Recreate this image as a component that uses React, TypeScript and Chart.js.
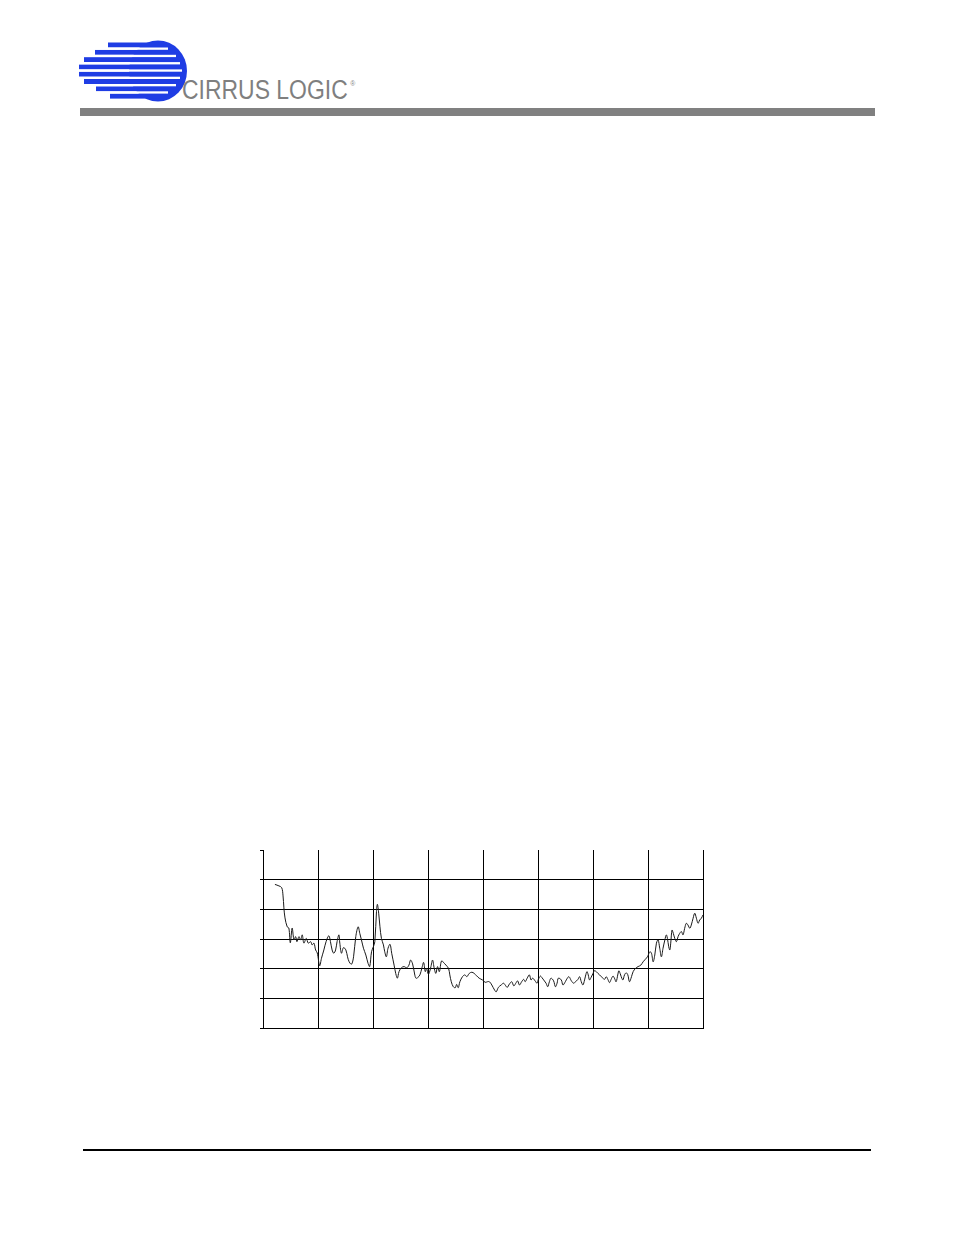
import React, { useEffect, useRef } from "react";
import { Chart, registerables } from "chart.js";

Chart.register(...registerables);

// Frequency (kHz) and level (dB)
const freqKHz: number[] = [
  0.65, 0.87, 1.02, 1.09, 1.14, 1.2, 1.32, 1.41, 1.49, 1.59, 1.69, 1.78, 1.85, 1.96, 2.05, 2.14, 2.23, 2.36, 2.47, 2.6,
  2.68, 2.78, 2.87, 2.96, 3.09, 3.19, 3.32, 3.44, 3.59, 3.68, 3.77, 3.86, 3.96, 4.04, 4.14, 4.19, 4.28, 4.39, 4.52, 4.61,
  4.7, 4.83, 4.94, 5.06, 5.19, 5.28, 5.37, 5.48, 5.61, 5.73, 5.82, 5.92, 6.02, 6.1, 6.19, 6.24, 6.31, 6.38, 6.46, 6.57,
  6.64, 6.73, 6.82, 6.93, 7.02, 7.15, 7.24, 7.33, 7.42, 7.55, 7.69, 7.84, 7.96, 8.05, 8.16, 8.27, 8.34, 8.44, 8.56, 8.67,
  8.76, 8.85, 8.92, 9.02, 9.1, 9.16, 9.25, 9.34, 9.43, 9.52, 9.62, 9.74, 9.89, 9.98, 10.12, 10.19, 10.27, 10.38, 10.49, 10.56,
  10.65, 10.74, 10.88, 11.01, 11.12, 11.25, 11.39, 11.52, 11.65, 11.79, 11.97, 12.12, 12.24, 12.35, 12.48, 12.63, 12.72, 12.84, 12.99, 13.12,
  13.21, 13.32, 13.44, 13.57, 13.68, 13.81, 13.89, 13.99, 14.11, 14.22, 14.3, 14.41, 14.53, 14.62, 14.71, 14.84, 14.95, 15.02, 15.13, 15.2,
  15.31, 15.44, 15.53, 15.62, 15.71, 15.85, 15.95, 16.04, 16.11, 16.27, 16.36, 16.49, 16.6, 16.69, 16.82, 16.94, 17.05, 17.18, 17.27, 17.36,
  17.45, 17.54, 17.59, 17.67, 17.74, 17.81, 17.9, 18.0, 18.08, 18.18, 18.27, 18.36, 18.45, 18.54, 18.63, 18.72, 18.81, 18.9, 18.99, 19.09,
  19.17, 19.26, 19.36, 19.41, 19.48, 19.54, 19.63, 19.72, 19.81, 19.9, 19.99, 20.1, 20.19, 20.32, 20.46, 20.61, 20.73, 20.86, 20.97, 21.1,
  21.19, 21.28, 21.37, 21.46, 21.55, 21.64, 21.73, 21.82, 21.92, 22.0, 22.06, 22.13, 22.19, 22.24, 22.31, 22.38, 22.46, 22.55, 22.64, 22.73,
  22.82, 22.91, 23.0, 23.09, 23.18, 23.28, 23.36, 23.46, 23.55, 23.64, 23.73, 23.82, 23.91, 24.0,
];

const levelDb: number[] = [
  -101.6, -102.1, -102.7, -105.2, -109.5, -112.9, -115.9, -116.3, -121.3, -116.3, -120.3, -119.2, -120.9, -119.2, -120.3, -118.6, -121.4, -119.8, -121.4, -120.9,
  -122.0, -121.4, -123.7, -124.7, -129.0, -126.5, -123.7, -120.9, -118.9, -120.9, -123.7, -124.8, -123.7, -120.9, -118.6, -121.4, -124.8, -122.9, -123.7, -126.0,
  -127.7, -128.5, -126.0, -119.2, -115.9, -118.1, -120.3, -123.1, -125.4, -128.2, -129.3, -124.3, -122.6, -120.9, -110.8, -108.3, -111.3, -115.9, -119.8, -122.0,
  -124.3, -126.0, -123.1, -121.8, -124.8, -128.8, -131.6, -133.2, -131.0, -129.7, -129.3, -129.7, -128.8, -127.1, -128.4, -131.8, -133.2, -133.0, -132.1, -129.7,
  -127.9, -131.0, -129.9, -131.9, -130.8, -129.3, -127.1, -129.9, -131.6, -129.3, -131.0, -127.4, -128.2, -128.8, -129.9, -132.1, -134.4, -136.1, -136.4, -135.3,
  -136.4, -134.4, -132.7, -132.1, -132.7, -131.6, -131.2, -131.6, -132.4, -133.2, -133.8, -134.6, -134.4, -134.4, -135.5, -137.2, -137.8, -136.3, -135.5, -134.9,
  -135.5, -136.3, -135.2, -134.4, -135.8, -134.7, -134.1, -135.5, -134.4, -133.6, -134.4, -133.2, -132.1, -133.8, -133.2, -134.1, -134.9, -133.6, -132.5, -132.9,
  -133.8, -134.9, -136.1, -134.4, -133.2, -134.1, -136.1, -134.9, -133.2, -133.8, -135.5, -134.4, -133.2, -132.7, -134.1, -134.9, -134.4, -133.6, -132.7, -134.4,
  -135.5, -133.8, -132.5, -131.0, -132.1, -133.8, -132.9, -131.6, -130.7, -131.0, -131.6, -132.1, -132.7, -133.2, -133.6, -132.7, -133.6, -134.7, -133.6, -132.5,
  -133.2, -134.4, -131.8, -130.7, -131.6, -132.7, -133.8, -132.1, -131.4, -132.1, -134.4, -132.7, -131.0, -129.9, -129.3, -128.8, -127.7, -126.8, -126.0, -124.3,
  -124.8, -127.7, -125.4, -121.4, -120.3, -123.1, -126.0, -123.1, -120.3, -118.6, -119.8, -122.6, -123.7, -121.4, -117.0, -118.1, -119.8, -120.9, -119.2, -118.1,
  -117.5, -118.6, -116.4, -114.7, -115.3, -116.4, -115.3, -113.0, -111.3, -113.0, -114.7, -113.6, -113.0, -111.9,
];

const xMin = 0;
const xMax = 24;
const xStep = 3;
const yMin = -150;
const yMax = -90;
const yStep = 10;

const logoStripeStarts = [108, 95, 84, 79, 79, 84, 96, 110];
const logoGapEnds = [168, 176, 180, 182, 180, 176, 168];

function NoiseChart() {
  const ref = useRef<HTMLCanvasElement | null>(null);
  useEffect(() => {
    if (!ref.current) return;
    const points = freqKHz.map((f, i) => ({ x: f, y: levelDb[i] }));
    const chart = new Chart(ref.current, {
      type: "line",
      data: {
        datasets: [
          {
            data: points,
            borderColor: "#1a1a1a",
            borderWidth: 1,
            pointRadius: 0,
            tension: 0.35,
            fill: false,
          },
        ],
      },
      options: {
        animation: false,
        responsive: false,
        events: [],
        layout: { padding: { left: 5, top: 5, right: 4, bottom: 3 } },
        plugins: { legend: { display: false }, tooltip: { enabled: false } },
        scales: {
          x: {
            type: "linear",
            min: xMin,
            max: xMax,
            ticks: { display: false, stepSize: xStep },
            grid: { color: "#000", lineWidth: 1, drawTicks: false },
            border: { display: true, color: "#000", width: 1 },
          },
          y: {
            type: "linear",
            min: yMin,
            max: yMax,
            ticks: { display: false, stepSize: yStep },
            grid: {
              color: (c: any) => (c.tick && c.tick.value === yMax ? "rgba(0,0,0,0)" : "#000"),
              tickColor: "#000",
              lineWidth: 1,
              drawTicks: true,
              tickLength: 3,
            },
            border: { display: true, color: "#000", width: 1 },
          },
        },
      },
    });
    return () => chart.destroy();
  }, []);
  return (
    <canvas
      ref={ref}
      width={452}
      height={186}
      style={{ position: "absolute", left: 255, top: 845, width: 452, height: 186 }}
    />
  );
}

function Logo() {
  const blue = "#1f3de4";
  return (
    <svg width={954} height={130} style={{ position: "absolute", left: 0, top: 0 }}>
      <ellipse cx={158} cy={71} rx={29} ry={30.5} fill={blue} />
      {logoStripeStarts.map((sx, i) => (
        <rect key={"s" + i} x={sx} y={42.5 + i * 7.3} width={160 - sx} height={5} fill={blue} />
      ))}
      {logoGapEnds.map((ex, i) => (
        <rect key={"g" + i} x={76} y={47.5 + i * 7.3} width={ex - 76} height={2.3} fill="#ffffff" />
      ))}
      <g transform="translate(182,99) scale(0.85,1)">
        <text x={0} y={0} fontFamily="'Liberation Sans', Arial, sans-serif" fontSize={27} fill="#7f7f7f">
          CIRRUS LOGIC
          <tspan fontSize={8} dx={3} dy={-13}>®</tspan>
        </text>
      </g>
    </svg>
  );
}

export default function App() {
  return (
    <div style={{ position: "absolute", left: 0, top: 0, width: 954, height: 1235, background: "#fff", overflow: "hidden" }}>
      <Logo />
      <div style={{ position: "absolute", left: 80, top: 108, width: 795, height: 8, background: "#808080" }} />
      <NoiseChart />
      <div style={{ position: "absolute", left: 83, top: 1149, width: 788, height: 2, background: "#000" }} />
    </div>
  );
}
